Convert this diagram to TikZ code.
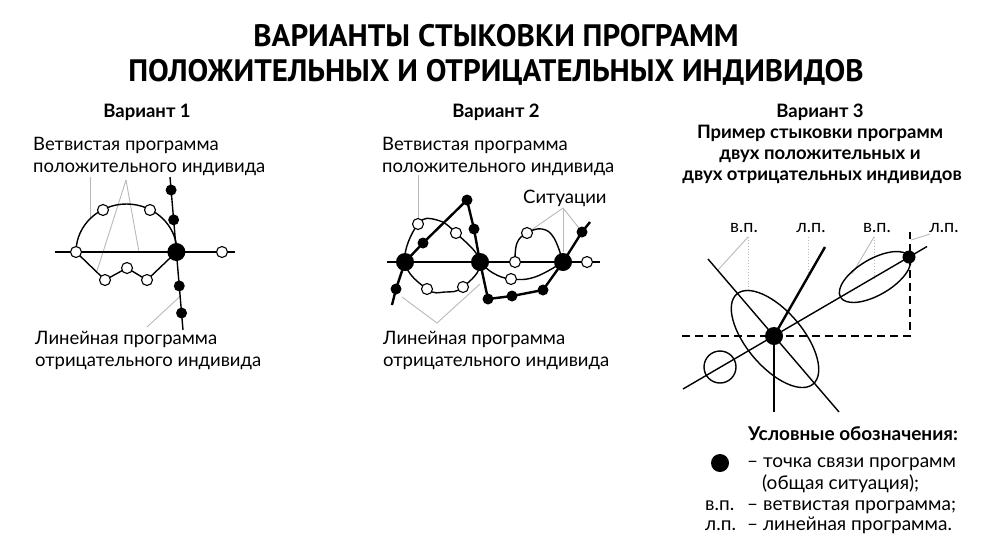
\documentclass[tikz,border=0pt]{standalone}
\usepackage{fontspec}
\setmainfont{Lato}
\newfontfamily\titlefont{PT Sans}
\usepackage{tikz}
\usetikzlibrary{calc}
\tikzset{>=latex}
\tikzset{
  bigdot/.style = {circle, fill = black, inner sep = 0pt, minimum size = 18pt},
  blackdot/.style = {circle, fill = black, inner sep = 0pt, minimum size = 11pt},
  opendot/.style = {circle, draw = black, fill = white, line width = 1.1pt, inner sep = 0pt, minimum size = 11pt},
  prog/.style = {line width = 1.4pt},
  thickprog/.style = {line width = 2.4pt},
  lead/.style = {gray!55, line width = 0.9pt},
  dotlead/.style = {gray!55, line width = 0.9pt, dotted},
  titletxt/.style = {font = \titlefont\bfseries\fontsize{31}{36}\selectfont, inner sep = 0pt, anchor = base},
  headtxt/.style = {font = \bfseries\fontsize{18.5}{21}\selectfont, inner sep = 0pt, anchor = base},
  txt/.style = {font = \fontsize{18.5}{22}\selectfont, inner sep = 0pt, anchor = base west},
  keytxt/.style = {font = \fontsize{19}{22}\selectfont, inner sep = 0pt, anchor = base west},
  smalltxt/.style = {font = \fontsize{18}{22}\selectfont, inner sep = 0pt, anchor = base}
}
\begin{document}
\begin{tikzpicture}[x = 1pt, y = -1pt]
\useasboundingbox (0,0) rectangle (992,558);

% title
\node[titletxt] (title1) at (496,46) {ВАРИАНТЫ СТЫКОВКИ ПРОГРАММ};
\node[titletxt] (title2) at (496,81) {ПОЛОЖИТЕЛЬНЫХ И ОТРИЦАТЕЛЬНЫХ ИНДИВИДОВ};

% variant 1
\node[headtxt] (head1) at (147,117) {Вариант 1};
\node[txt] (v1text1) at (33,150) {Ветвистая программа};
\node[txt] (v1text2) at (33,172) {положительного индивида};
\node[txt] (v1text3) at (35,344) {Линейная программа};
\node[txt] (v1text4) at (35,366) {отрицательного индивида};

\coordinate (v1w) at (55,252);
\coordinate (v1e) at (235,252);
\coordinate (v1n) at (170,177);
\coordinate (v1s) at (183,330);
\coordinate (v1c) at ($(v1n)!0.49!(v1s)$);
\coordinate (v1l) at (76,252);
\coordinate (v1r) at (222,252);
\coordinate (v1a) at (103,210);
\coordinate (v1b) at (150,210);
\coordinate (v1z1) at (105,280);
\coordinate (v1z2) at (127,268);
\coordinate (v1z3) at (147,280);
\coordinate (v1top) at (126,180);

\draw[lead] (90,177) -- (90,219);
\draw[lead] (v1top) -- (97,271);
\draw[lead] (v1top) -- (139,252);
\draw[lead] (147,327) -- ($(v1n)!0.78!(v1s)$);

\draw[prog] (v1w) -- (v1e);
\draw[prog] (v1n) -- (v1s);
\draw[prog] (v1l) arc[start angle = 180, end angle = 360, x radius = 50.5, y radius = 48];
\draw[prog] (v1l) -- (v1z1) -- (v1z2) -- (v1z3) -- (v1c);

\node[bigdot] (v1big) at (v1c) {};
\foreach \t/\n in {0.085/1, 0.28/2, 0.712/3, 0.889/4}
  \node[blackdot] (v1d\n) at ($(v1n)!\t!(v1s)$) {};
\foreach \p/\n in {v1l/1, v1r/2, v1a/3, v1b/4, v1z1/5, v1z2/6, v1z3/7}
  \node[opendot] (v1o\n) at (\p) {};

% variant 2
\node[headtxt] (head2) at (496,117) {Вариант 2};
\node[txt] (v2text1) at (382,150) {Ветвистая программа};
\node[txt] (v2text2) at (382,172) {положительного индивида};
\node[txt] (v2text3) at (383,344) {Линейная программа};
\node[txt] (v2text4) at (383,366) {отрицательного индивида};
\node[txt] (v2text5) at (523,203) {Ситуации};

\coordinate (v2a) at (405,262);
\coordinate (v2b) at (480,262);
\coordinate (v2c) at (563,262);
\coordinate (v2w) at (387,262);
\coordinate (v2e) at (600,262);
\coordinate (v2h1) at (515,262);
\coordinate (v2h2) at (587,262);
\coordinate (v2s0) at (392,305);
\coordinate (v2s1) at (396,289);
\coordinate (v2s2) at (423,243);
\coordinate (v2s3) at (467,200);
\coordinate (v2s4) at (474,229);
\coordinate (v2s5) at (488,299);
\coordinate (v2s6) at (512,296);
\coordinate (v2s7) at (543,290);
\coordinate (v2s8) at (582,232);
\coordinate (v2s9) at (590,222);
\coordinate (v2l1) at (418,224);
\coordinate (v2l2) at (456,233);
\coordinate (v2l3) at (463,287);
\coordinate (v2l4) at (427,289);
\coordinate (v2m1) at (511,279);
\coordinate (v2m2) at (527,233);
\coordinate (v2sit) at (563,208);
\coordinate (v2lin) at (437,323);

\draw[lead] (418,175) -- (v2l1);
\draw[lead] (v2sit) -- (v2m2);
\draw[lead] (v2sit) -- (563,252);
\draw[lead] (v2sit) -- (579,228);
\draw[lead] (402,297) -- (v2lin) -- (480,284);

\draw[prog] (v2w) -- (v2e);
\draw[prog] plot[smooth cycle, tension = 0.7] coordinates {(v2a) (v2l1) (437,220) (v2l2) (v2b) (v2l3) (445,292) (v2l4)};
\draw[prog] plot[smooth, tension = 0.7] coordinates {(v2b) (493,273) (v2m1) (535,277) (v2c)};
\draw[prog] plot[smooth, tension = 0.7] coordinates {(v2h1) (517,243) (v2m2) (542,229) (554,238) (v2c)};
\draw[thickprog] (v2s0) -- (v2s1) -- (v2a) -- (v2s2) -- (v2s3) -- (v2s4) -- (v2b)
  -- (v2s5) -- (v2s6) -- (v2s7) -- (v2c) -- (v2s8) -- (v2s9);

\foreach \p in {v2a, v2b, v2c}
  \node[bigdot] (\p node) at (\p) {};
\foreach \p in {v2s1, v2s2, v2s3, v2s4, v2s5, v2s6, v2s7, v2s8}
  \node[blackdot] (\p node) at (\p) {};
\foreach \p in {v2h1, v2h2, v2l1, v2l2, v2l3, v2l4, v2m1, v2m2}
  \node[opendot] (\p node) at (\p) {};

% variant 3
\node[headtxt] (head3) at (820,117) {Вариант 3};
\node[headtxt] (head3b) at (820,138) {Пример стыковки программ};
\node[headtxt] (head3c) at (820,159) {двух положительных и};
\node[headtxt] (head3d) at (822,180) {двух отрицательных индивидов};

\node[smalltxt] (vp1) at (744,232) {в.п.};
\node[smalltxt] (lp1) at (811,232) {л.п.};
\node[smalltxt] (vp2) at (877,232) {в.п.};
\node[smalltxt] (lp2) at (944,232) {л.п.};

\coordinate (v3p) at (774,336);
\coordinate (v3q) at (909,257);
\coordinate (v3sw) at (683,389);
\coordinate (v3ne) at (927,246.5);
\coordinate (v3nw) at (708,259);
\coordinate (v3se) at (839,412);
\coordinate (v3up) at (825,247);
\coordinate (v3dn) at (774,412);
\coordinate (v3dw) at (682,336);
\coordinate (v3de) at (910,336);
\coordinate (v3dt) at (910,232);

\draw[lead] (748,237) -- (718,270);
\draw[dotlead] (748,237) -- (748,290);
\draw[dotlead] (808,237) -- (808,275);
\draw[lead] (874,237) -- (852,274);
\draw[dotlead] (874,237) -- (874,279);
\draw[lead] (911,240) -- (930,234);

\draw[line width = 1.6pt, dash pattern = on 8pt off 5pt] (v3dw) -- (v3de) -- (v3dt);
\draw[prog] (v3sw) -- (v3ne);
\draw[prog] (v3nw) -- (v3se);
\draw[thickprog] (v3p) -- (v3up);
\draw[thickprog] (v3p) -- (v3dn);
\draw[prog, rotate around = {-49.7:(775,339)}] (775,339) ellipse[x radius = 59, y radius = 28];
\draw[prog, rotate around = {30.3:(875,277)}] (875,277) ellipse[x radius = 40, y radius = 18];
\draw[prog] (720,367) circle (16);

\node[bigdot] (v3pnode) at (v3p) {};
\node[blackdot, minimum size = 13pt] (v3qnode) at (v3q) {};

% legend
\node[headtxt, font = \bfseries\fontsize{19}{22}\selectfont, anchor = base west] (keyhead) at (748,440) {Условные обозначения:};
\node[bigdot] (keydot) at (720,463) {};
\node[keytxt] (key1) at (747,467) {– точка связи программ};
\node[keytxt] (key2) at (762,489) {(общая ситуация);};
\node[keytxt] (key3a) at (705,510) {в.п.};
\node[keytxt] (key3) at (747,510) {– ветвистая программа;};
\node[keytxt] (key4a) at (705,530) {л.п.};
\node[keytxt] (key4) at (747,530) {– линейная программа.};
\end{tikzpicture}
\end{document}
